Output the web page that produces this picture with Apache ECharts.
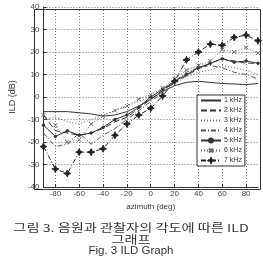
<!DOCTYPE html>
<html>
<head>
<meta charset="utf-8">
<script src="https://cdn.jsdelivr.net/npm/echarts@6/dist/echarts.min.js"></script>
<style>
  html, body { margin: 0; padding: 0; background: #fff; }
  #chart { width: 263px; height: 263px; }
</style>
</head>
<body>
<div id="chart"></div>
<script>
// azimuth in degrees, ILD in dB, one array per frequency
var azimuth = [-90, -80, -70, -60, -50, -40, -30, -20, -10, 0, 10, 20, 30, 40, 50, 60, 70, 80, 90];
var ild1k = [-6.5, -6.5, -6.5, -7, -7.5, -8.5, -8, -6.5, -4, -1, 2.5, 5, 6.5, 7, 6.5, 6, 5.8, 5.5, 6];
var ild2k = [-8, -15, -16, -17, -16, -14, -11, -9, -5, -1, 3, 6.5, 9.5, 12.5, 15, 17, 16, 15, 15];
var ild3k = [-10, -9, -11, -12, -10, -8, -6, -4, -2, 0, 3, 6, 9, 11, 12, 14, 13, 12, 10];
var ild4k = [-16, -22, -21, -16, -21, -17, -14, -10, -6, -2, 2, 7, 11, 13, 14, 13, 11, 10, 8];
var ild5k = [-12.5, -17.5, -15, -17, -16, -13.5, -10, -8, -4.5, 0, 3.5, 7, 10, 13, 15, 17, 15.5, 16, 15];
var ild6k = [-8, -12.5, -20, -19, -12, -8.5, -6, -4, -1, 1, 4, 8, 12, 14, 16, 21, 20, 22, 19.5];
var ild7k = [-22, -32, -34, -24.5, -24.5, -23, -17, -12, -8, -5, 0.5, 7, 16.5, 20, 23.5, 23, 26.5, 27.5, 25];
var seriesNames = ['1 kHz', '2 kHz', '3 kHz', '4 kHz', '5 kHz', '6 kHz', '7 kHz'];
var hasMarker = [false, false, false, false, true, true, true];
var xTicks = [-80, -60, -40, -20, 0, 20, 40, 60, 80];

function pairs(ys) {
  return azimuth.map(function (x, i) { return [x, ys[i]]; });
}

var starPath = 'path://M0,-10L3,-3L10,0L3,3L0,10L-3,3L-10,0L-3,-3Z';
var crossPath = 'path://M-10,-10L10,10M10,-10L-10,10';

function mk(name, ys, color, type, symbol, size, width) {
  return {
    name: name,
    type: 'line',
    data: pairs(ys),
    symbol: symbol || 'none',
    symbolSize: size || 0,
    showSymbol: !!symbol,
    lineStyle: { color: color, type: type, width: width || 1 },
    itemStyle: { color: color, borderColor: color, borderWidth: 1 },
    emphasis: { disabled: true },
    animation: false
  };
}

// legend entries: hide the default circle for plain lines
var legendData = seriesNames.map(function (n, i) {
  return hasMarker[i] ? { name: n } : { name: n, itemStyle: { color: 'rgba(0,0,0,0)', borderWidth: 0, opacity: 0 } };
});

var chart = echarts.init(document.getElementById('chart'));
var font = 'Liberation Sans, Arial, sans-serif';

var option = {
  backgroundColor: '#fff',
  animation: false,
  grid: { left: 32, right: 5, top: 7, bottom: 76 },
  legend: {
    data: legendData,
    orient: 'vertical',
    left: 197,
    top: 95,
    itemWidth: 20,
    itemHeight: 5,
    itemGap: 3,
    padding: [2, 3, 2, 3],
    backgroundColor: '#fff',
    borderColor: '#333',
    borderWidth: 1,
    borderRadius: 0,
    textStyle: { fontSize: 7, color: '#333', fontFamily: font, padding: [0, 0, 0, -2] }
  },
  xAxis: {
    type: 'value',
    min: -90,
    max: 90,
    name: 'azimuth (deg)',
    nameLocation: 'middle',
    nameGap: 12,
    nameTextStyle: { fontSize: 8, color: '#333', fontFamily: font },
    axisLine: { show: true, onZero: false, lineStyle: { color: '#333', width: 1 } },
    axisTick: { show: true, inside: true, length: 3, customValues: xTicks, lineStyle: { color: '#333' } },
    axisLabel: { fontSize: 8, color: '#444', margin: 3, fontFamily: font, customValues: xTicks },
    splitLine: { show: true, lineStyle: { color: '#777', type: [1, 2], width: 1 } }
  },
  yAxis: {
    type: 'value',
    min: -40,
    max: 40,
    interval: 10,
    name: 'ILD (dB)',
    nameLocation: 'middle',
    nameGap: 18,
    nameTextStyle: { fontSize: 9, color: '#333', fontFamily: font },
    axisLine: { show: true, onZero: false, lineStyle: { color: '#333', width: 1 } },
    axisTick: { show: true, inside: true, length: 3, lineStyle: { color: '#333' } },
    axisLabel: { fontSize: 8, color: '#444', margin: 4, fontFamily: font },
    splitLine: { show: true, lineStyle: { color: '#777', type: [1, 2], width: 1 } }
  },
  graphic: [
    { type: 'rect', left: 32, top: 7, shape: { width: 226, height: 180 }, style: { fill: 'none', stroke: '#333', lineWidth: 1 }, silent: true, z: -1 },
    { type: 'text', x: 131, y: 228, scaleX: 1.29, style: { text: '그림 3. 음원과 관찰자의 각도에 따른 ILD', fontSize: 11, fill: '#333', fontFamily: 'Noto Sans CJK KR', textAlign: 'center', textVerticalAlign: 'middle' } },
    { type: 'text', x: 131, y: 239.5, scaleX: 1.29, style: { text: '그래프', fontSize: 11, fill: '#333', fontFamily: 'Noto Sans CJK KR', textAlign: 'center', textVerticalAlign: 'middle' } },
    { type: 'text', x: 131, y: 251, style: { text: 'Fig. 3 ILD Graph', fontSize: 11.5, fill: '#333', fontFamily: font, textAlign: 'center', textVerticalAlign: 'middle' } }
  ],
  series: [
    mk(seriesNames[0], ild1k, '#333', 'solid'),
    mk(seriesNames[1], ild2k, '#333', [6, 3]),
    mk(seriesNames[2], ild3k, '#666', [1, 2]),
    mk(seriesNames[3], ild4k, '#555', [5, 2, 1, 2]),
    mk(seriesNames[4], ild5k, '#333', 'solid', 'circle', 2.5),
    mk(seriesNames[5], ild6k, '#666', [1, 2], crossPath, 4),
    mk(seriesNames[6], ild7k, '#222', [5, 2, 1, 2], starPath, 7)
  ]
};

chart.setOption(option);
</script>
</body>
</html>
